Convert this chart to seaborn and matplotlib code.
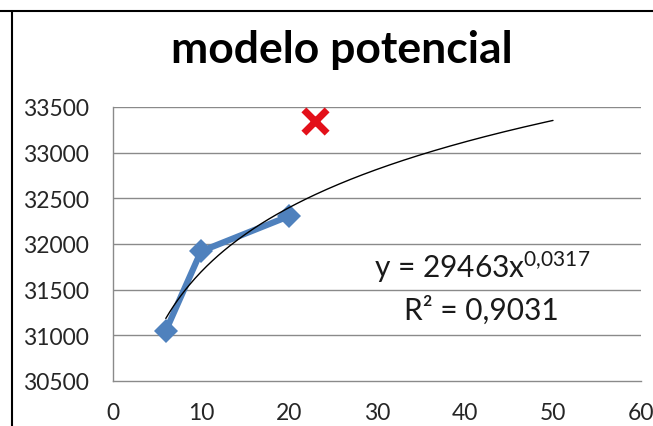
import numpy as np
import pandas as pd
import matplotlib
matplotlib.use("Agg")
import matplotlib.pyplot as plt
from matplotlib.lines import Line2D
import seaborn as sns

# ---- data ----
x_obs = [6, 10, 20]
y_obs = [31050, 31920, 32305]
x_pred = [23]
y_pred = [33350]
coef_a = 29463          # trendline y = a * x^b (as printed on the chart)
coef_b = 0.0317
r2_text = "0,9031"
trend_x_range = [6, 50]
x_ticks = [0, 10, 20, 30, 40, 50, 60]
y_ticks = [30500, 31000, 31500, 32000, 32500, 33000, 33500]
title = "modelo potencial"

sns.set_theme(style="white")
plt.rcParams["font.family"] = ["Lato", "DejaVu Sans"]
plt.rcParams["mathtext.fontset"] = "custom"
plt.rcParams["mathtext.rm"] = "Lato"
plt.rcParams["mathtext.it"] = "Lato"

fig = plt.figure(figsize=(6.53, 4.27), dpi=100)
ax = fig.add_axes([113 / 653, 1 - 382 / 427, (641 - 113) / 653, (382 - 108) / 427])

grid_c = "#8a8a8a"
for yv in y_ticks[1:]:
    ax.axhline(yv, color=grid_c, lw=1.0, zorder=0)

obs = pd.DataFrame({"x": x_obs, "y": y_obs})
sns.lineplot(data=obs, x="x", y="y", ax=ax, color="#4F81BD", lw=4.5,
             marker="D", markersize=12, markeredgewidth=0, zorder=3)

tx = np.linspace(trend_x_range[0], trend_x_range[1], 200)
trend = pd.DataFrame({"x": tx, "y": coef_a * tx ** coef_b})
sns.lineplot(data=trend, x="x", y="y", ax=ax, color="black", lw=1.0, zorder=4)

pred = pd.DataFrame({"x": x_pred, "y": y_pred})
sns.scatterplot(data=pred, x="x", y="y", ax=ax, marker="x", s=280,
                color="#E3101A", linewidth=5, zorder=5)

ax.set_xlim(0, 60)
ax.set_ylim(30500, 33500)
ax.set_xticks(x_ticks)
ax.set_yticks(y_ticks)
ax.set_xticklabels([str(v) for v in x_ticks])
ax.set_yticklabels([str(v) for v in y_ticks])
ax.set_xlabel("")
ax.set_ylabel("")
for s in ["top", "right"]:
    ax.spines[s].set_visible(False)
for s in ["left", "bottom"]:
    ax.spines[s].set_color(grid_c)
    ax.spines[s].set_linewidth(1.0)
ax.tick_params(axis="both", which="major", length=6, width=1.0, color=grid_c,
               labelsize=16.5, labelcolor="#262626", direction="out")
ax.tick_params(axis="y", pad=11)
ax.tick_params(axis="x", pad=9)

ax.text(41.9, 31760, "y = 29463x$^{0{,}0317}$", ha="center", va="center",
        fontsize=21.5, color="#1a1a1a")
ax.text(41.9, 31288, "R\u00b2 = " + r2_text, ha="center", va="center",
        fontsize=21.5, color="#1a1a1a")

fig.text(342 / 653, 1 - 50 / 427, title, ha="center", va="center",
         fontsize=32, fontweight="bold", color="black")

# chart frame lines (top and left) as in the cropped screenshot
fig.add_artist(Line2D([0, 1], [1 - 12 / 427, 1 - 12 / 427], color="black", lw=1.5,
                      transform=fig.transFigure))
fig.add_artist(Line2D([12 / 653, 12 / 653], [0, 1 - 12 / 427], color="black", lw=1.5,
                      transform=fig.transFigure))

fig.savefig("out.png", dpi=100)
